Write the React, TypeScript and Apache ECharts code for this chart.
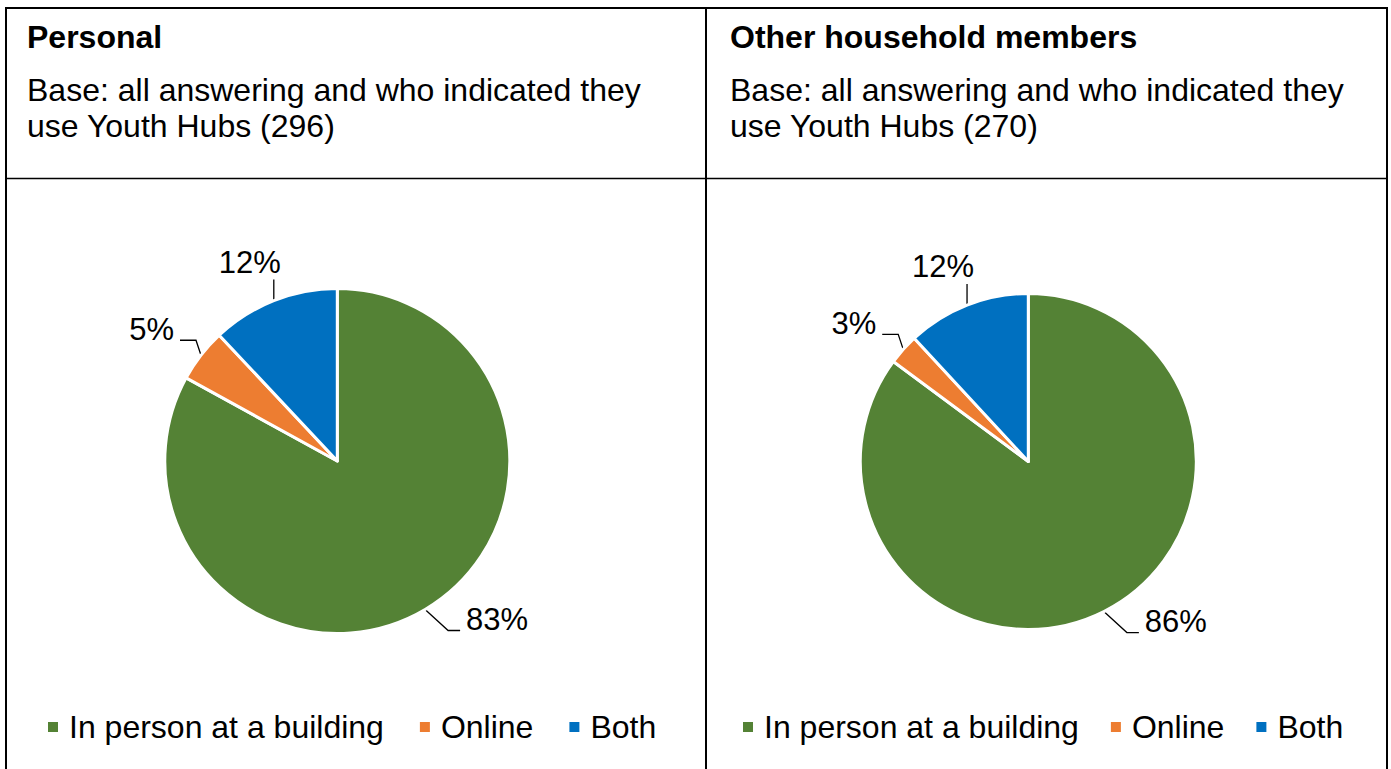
import React, { useEffect, useRef } from "react";
import * as echarts from "echarts";

const categories = ["In person at a building", "Online", "Both"];
const personalValues = [83, 5, 12];
const householdValues = [86, 3, 12];
const colors = ["#548235", "#ED7D31", "#0070C0"];
const panelTitles = ["Personal", "Other household members"];
const panelBaseLine1 = [
  "Base: all answering and who indicated they",
  "Base: all answering and who indicated they",
];
const panelBaseLine2 = ["use Youth Hubs (296)", "use Youth Hubs (270)"];

const FONT = "Arial, 'Liberation Sans', Helvetica, sans-serif";
const FS = 31; // data labels
const FS_TEXT = 32; // header and legend text
const BASE_OFF = FS * 0.3465; // distance from text middle to alphabetic baseline
const BASE_OFF_T = FS_TEXT * 0.3465;

// leader line shapes relative to the library's anchor on the slice edge
const GUIDES = [
  { bend: [23, 21], run: 12 },
  { bend: [-5, -15], run: -16 },
  { bend: [0, -21], run: 0 },
];

function makeLabelLayout(p: any) {
  const pts = p.labelLinePoints;
  if (!pts || !pts.length) return {};
  const [x0, y0] = pts[0];
  const g = GUIDES[p.dataIndex];
  const x1 = x0 + g.bend[0];
  const y1 = y0 + g.bend[1];
  const x2 = x1 + g.run;
  const line = [
    [x0, y0],
    [x1, y1],
    [x2, y1],
  ];
  if (g.run === 0) {
    return {
      x: x0 - 24,
      y: y1 - 6.5 - BASE_OFF,
      align: "center",
      verticalAlign: "middle",
      labelLinePoints: line,
    };
  }
  const right = g.run > 0;
  return {
    x: right ? x2 + 6 : x2 - 6,
    y: y1 - BASE_OFF,
    align: right ? "left" : "right",
    verticalAlign: "middle",
    labelLinePoints: line,
  };
}

function pieSeries(values: number[], center: number[], radius: number) {
  return {
    type: "pie",
    center,
    radius,
    startAngle: 90,
    clockwise: true,
    avoidLabelOverlap: false,
    silent: true,
    data: categories.map((name, i) => ({
      name,
      value: values[i],
      itemStyle: { color: colors[i] },
    })),
    itemStyle: { borderColor: "#ffffff", borderWidth: 3 },
    label: {
      show: true,
      position: "outside",
      formatter: "{c}%",
      color: "#000000",
      fontSize: FS,
      fontFamily: FONT,
    },
    labelLine: {
      show: true,
      length: 20,
      length2: 10,
      lineStyle: { color: "#000000", width: 1.3 },
    },
    labelLayout: makeLabelLayout,
  };
}

export default function App() {
  const ref = useRef<HTMLDivElement>(null);
  useEffect(() => {
    if (!ref.current) return;
    const chart = echarts.init(ref.current, null, { renderer: "svg" });
    const lineStyle = { stroke: "#000000", lineWidth: 2 };
    const textEls: any[] = [];
    const xs = [27, 730];
    for (let i = 0; i < 2; i++) {
      textEls.push({
        type: "text",
        x: xs[i],
        y: 48 - BASE_OFF_T,
        style: {
          text: panelTitles[i],
          font: `bold ${FS_TEXT}px ${FONT}`,
          fill: "#000000",
          verticalAlign: "middle",
        },
      });
      textEls.push({
        type: "text",
        x: xs[i],
        y: 101 - BASE_OFF_T,
        style: {
          text: panelBaseLine1[i],
          font: `${FS_TEXT}px ${FONT}`,
          fill: "#000000",
          verticalAlign: "middle",
        },
      });
      textEls.push({
        type: "text",
        x: xs[i],
        y: 137 - BASE_OFF_T,
        style: {
          text: panelBaseLine2[i],
          font: `${FS_TEXT}px ${FONT}`,
          fill: "#000000",
          verticalAlign: "middle",
        },
      });
    }
    const legendBase = {
      orient: "horizontal",
      top: 711,
      padding: 0,
      icon: "rect",
      itemWidth: 12,
      itemHeight: 12,
      selectedMode: false,
      data: categories,
      textStyle: {
        fontSize: FS_TEXT,
        color: "#000000",
        fontFamily: FONT,
        padding: [0, 0, 0, 5],
      },
    };
    chart.setOption({
      animation: false,
      backgroundColor: "#ffffff",
      legend: [
        { ...legendBase, left: 46, itemGap: 34 },
        { ...legendBase, left: 741, itemGap: 30 },
      ],
      graphic: [
        { type: "line", shape: { x1: 5, y1: 8, x2: 1388, y2: 8 }, style: lineStyle },
        { type: "line", shape: { x1: 6, y1: 8, x2: 6, y2: 769 }, style: lineStyle },
        { type: "line", shape: { x1: 706, y1: 8, x2: 706, y2: 769 }, style: lineStyle },
        { type: "line", shape: { x1: 1387, y1: 8, x2: 1387, y2: 769 }, style: lineStyle },
        {
          type: "line",
          shape: { x1: 6, y1: 178.5, x2: 1387, y2: 178.5 },
          style: { stroke: "#000000", lineWidth: 1.3 },
        },
        ...textEls,
      ],
      series: [
        pieSeries(personalValues, [337.3, 461], 172.5),
        pieSeries(householdValues, [1028.3, 461.5], 168),
      ],
    });
    return () => chart.dispose();
  }, []);
  return (
    <div
      ref={ref}
      style={{ position: "absolute", left: 0, top: 0, width: 1391, height: 769 }}
    />
  );
}
